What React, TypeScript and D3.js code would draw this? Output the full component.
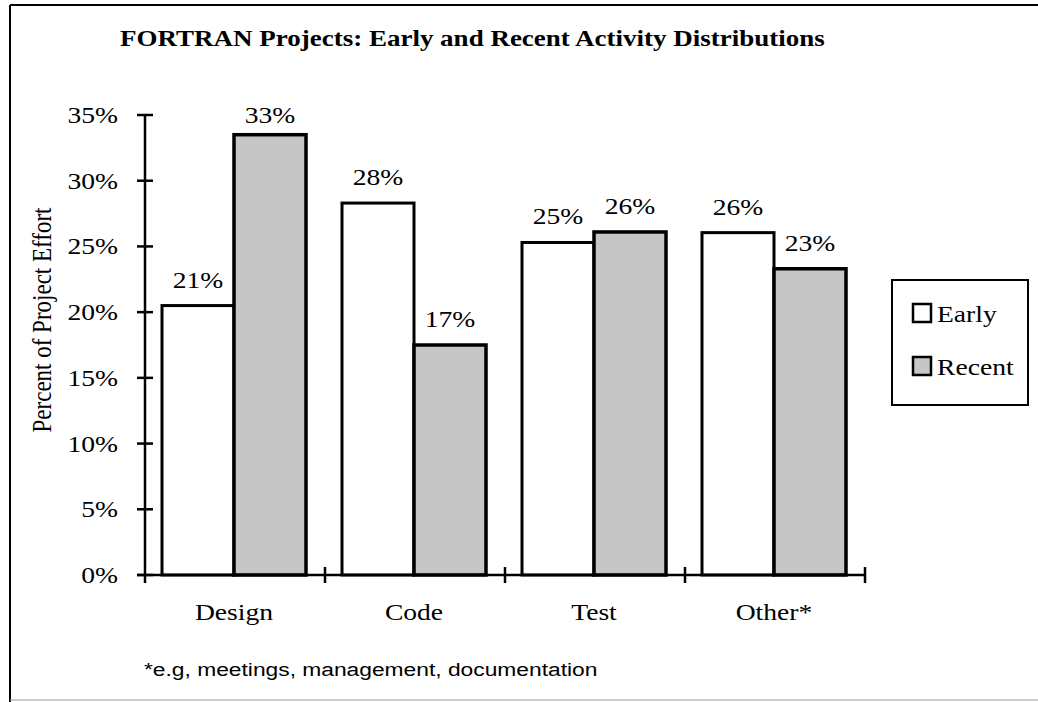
import React from 'react';
import * as d3 from 'd3';

const categories = ['Design', 'Code', 'Test', 'Other*'];
const series = ['Early', 'Recent'];
const earlyValues = [20.5, 28.3, 25.3, 26.05];
const recentValues = [33.5, 17.5, 26.1, 23.3];
const valueLabels = [
  ['21%', '33%'],
  ['28%', '17%'],
  ['25%', '26%'],
  ['26%', '23%'],
];
const yTicks = [0, 5, 10, 15, 20, 25, 30, 35];

const serif = '"Liberation Serif", "Times New Roman", serif';
const sans = '"Liberation Sans", Arial, sans-serif';
const grey = '#c6c6c6';
const SX = 1.2; // the scanned chart is stretched horizontally

// text drawn with the same horizontal stretch as the original
const T = ({ x, y, anchor = 'start', size = 23, family = serif, weight = 'normal', children }: any) => (
  <text
    transform={`translate(${x},${y}) scale(${SX},1)`}
    textAnchor={anchor}
    fontFamily={family}
    fontSize={size}
    fontWeight={weight}
  >
    {children}
  </text>
);

const App = () => {
  const width = 1038;
  const height = 702;

  // plot area
  const left = 145;
  const right = 865;
  const top = 115;
  const bottom = 575;

  const y = d3.scaleLinear().domain([0, 35]).range([bottom, top]);
  const x = d3.scaleBand().domain(categories).range([left, right]).padding(0);
  const bw = x.bandwidth();
  const xs = d3.scaleBand().domain(series).range([17, bw - 19]).padding(0);

  const fills = { Early: '#ffffff', Recent: grey };

  return (
    <svg
      width={width}
      height={height}
      style={{ position: 'absolute', left: 0, top: 0, background: '#fff' }}
    >
      {/* outer frame */}
      <line x1={10} y1={5} x2={width} y2={5} stroke="#000" strokeWidth={2} />
      <line x1={10} y1={5} x2={10} y2={height} stroke="#000" strokeWidth={2} />
      <line x1={10} y1={700} x2={width} y2={700} stroke="#999" strokeWidth={1} />

      <T x={120} y={46} weight="bold" size={22.5}>
        FORTRAN Projects: Early and Recent Activity Distributions
      </T>

      {/* bars */}
      {categories.map((c, i) => {
        const vals = [earlyValues[i], recentValues[i]];
        return (
          <g key={c} transform={`translate(${x(c)},0)`}>
            {series.map((s, j) => (
              <rect
                key={s}
                x={xs(s)}
                y={y(vals[j])}
                width={xs.bandwidth()}
                height={y(0) - y(vals[j])}
                fill={fills[s]}
                stroke="#000"
                strokeWidth={j === 1 ? 3.5 : 3}
              />
            ))}
            {series.map((s, j) => (
              <T
                key={s + 'l'}
                x={(xs(s) as number) + xs.bandwidth() / 2}
                y={Math.max(y(vals[j]) - 18, y(35) + 8)}
                anchor="middle"
              >
                {valueLabels[i][j]}
              </T>
            ))}
            <T x={bw / 2 - 1} y={620} anchor="middle">
              {c}
            </T>
          </g>
        );
      })}

      {/* y axis */}
      <line x1={left} y1={y(35)} x2={left} y2={bottom + 8} stroke="#000" strokeWidth={2.5} />
      {yTicks.map((t) => (
        <g key={t}>
          <line x1={left - 8} x2={left + 8} y1={y(t)} y2={y(t)} stroke="#000" strokeWidth={2.5} />
          <T x={118} y={y(t) + 8} anchor="end">
            {t}%
          </T>
        </g>
      ))}

      {/* x axis */}
      <line x1={left - 8} y1={bottom} x2={right} y2={bottom} stroke="#000" strokeWidth={2.5} />
      {categories.map((c) => (
        <line
          key={c}
          x1={(x(c) as number) + bw}
          x2={(x(c) as number) + bw}
          y1={bottom - 8}
          y2={bottom + 8}
          stroke="#000"
          strokeWidth={2.5}
        />
      ))}

      <text
        transform={`translate(51,320) rotate(-90) scale(1,${SX})`}
        textAnchor="middle"
        fontFamily={serif}
        fontSize={23}
      >
        Percent of Project Effort
      </text>

      {/* legend */}
      <rect x={892} y={280} width={136} height={125} fill="#fff" stroke="#000" strokeWidth={2} />
      {series.map((s, j) => (
        <g key={s} transform={`translate(913,${322 + j * 53})`}>
          <rect x={0} y={-18} width={18} height={18} fill={fills[s]} stroke="#000" strokeWidth={2.5} />
          <T x={24} y={0}>
            {s}
          </T>
        </g>
      ))}

      <T x={144} y={676} family={sans} size={19}>
        *e.g, meetings, management, documentation
      </T>
    </svg>
  );
};

export default App;
